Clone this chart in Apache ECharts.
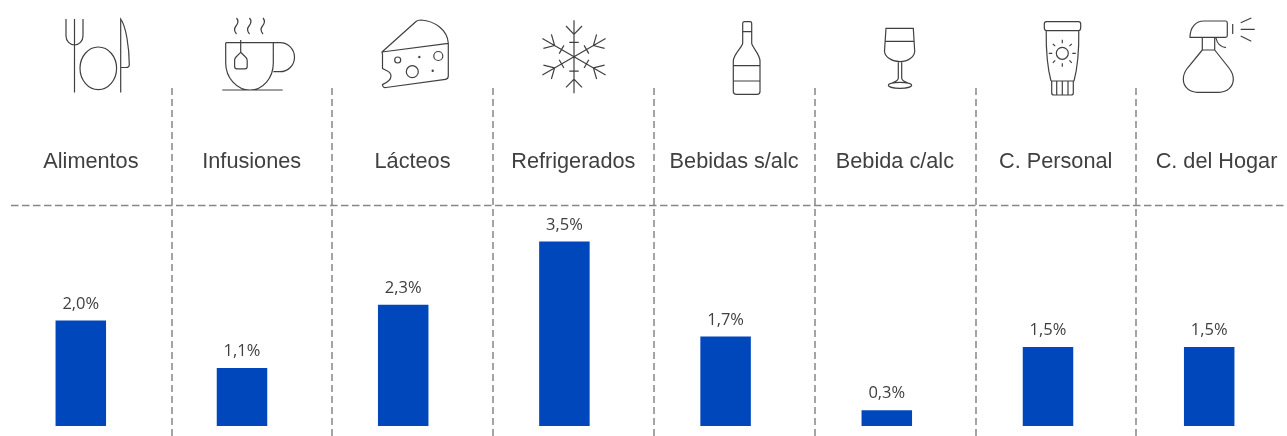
<!DOCTYPE html>
<html><head><meta charset="utf-8">
<style>html,body{margin:0;padding:0;background:#fff}#c{width:1287px;height:436px}</style>
<script src="https://cdn.jsdelivr.net/npm/echarts@6/dist/echarts.min.js"></script>
</head><body><div id="c"></div>
<script>
const categories = ['Alimentos','Infusiones','Lácteos','Refrigerados','Bebidas s/alc','Bebida c/alc','C. Personal','C. del Hogar'];
const values = [2.0,1.1,2.3,3.5,1.7,0.3,1.5,1.5];

function circ(cx,cy,r,ry){ry=ry||r;return `M${cx-r} ${cy}A${r} ${ry} 0 1 1 ${cx+r} ${cy}A${r} ${ry} 0 1 1 ${cx-r} ${cy}Z`;}
function snow(cx,cy){
  const pts=[[0,0,0,36.5],[-4.7,14.4,4.7,14.4],[0,22.4,-8,30.7],[0,22.4,8,30.7]];let d='';
  for(let k=0;k<6;k++){const a=k*Math.PI/3,c=Math.cos(a),s=Math.sin(a);
    const t=(x,y)=>(cx+x*c+y*s).toFixed(1)+' '+(cy-y*c+x*s).toFixed(1);
    pts.forEach(p=>{d+='M'+t(p[0],p[1])+'L'+t(p[2],p[3]);});}
  return d;
}
function sun(cx,cy){let d=circ(cx,cy,6);
  for(let k=0;k<8;k++){const a=k*Math.PI/4,c=Math.cos(a),s=Math.sin(a);
    d+=`M${(cx+10*c).toFixed(1)} ${(cy+10*s).toFixed(1)}L${(cx+13.5*c).toFixed(1)} ${(cy+13.5*s).toFixed(1)}`;}
  return d;
}
const icons = [
 // cubiertos
 'M66 19V36C66 41 70 45 74.5 45C79 45 83 41 83 36V19M74.5 19V92.5'+circ(98.3,68.3,18.3,21.3)+'M120.7 92.5V19C126 26 129.3 48 129.3 65C129.3 67 128 67.5 126 67.5H120.7',
 // taza
 'M225.7 42.7H280A14.5 14.5 0 0 1 280 71.7H273.3M225.7 42.7V63C225.7 78 237 90 250 90C263 90 273.3 78 273.3 63V42.7M222.3 90H282.7M240.7 40V52.3L236 57C235 58 234.6 59 234.6 60.5V66.5C234.6 68 235.5 68.8 237 68.8H245C246.5 68.8 247.2 68 247.2 66.5V60.5C247.2 59 246.7 58 245.5 57L240.7 52.3'+
 'M236.5 18C239 21 238.5 23 236 26C233.5 29 234 31 236.5 34M249.5 18C252 21 251.5 23 249 26C246.5 29 247 31 249.5 34M263 18C265.5 21 265 23 262.5 26C260 29 260.5 31 263 34',
 // queso
 'M382 52L416 21.5C417.5 20 419 20 421 20C435 21 447.5 30 448.3 43.3V76C448.3 78 447.5 79 445.5 79.3L386 87.5C383.5 87.8 382.5 86.5 382.5 84.5C386 83 391 81 391 76C391 71 386 71 382.5 68.5V54ZM382 52L448.3 43.3'+circ(397.7,60,3)+circ(412.3,71.7,6)+circ(438.3,56,4.5)+circ(419.3,57,0.6)+circ(432.7,70.7,0.6),
 // copo
 snow(574,56.7),
 // botella
 'M744.5 21.7H750C751 21.7 751.7 22.5 751.7 23.5V43C751.7 47 760 54 760 61V91.5C760 93.5 759 94.3 757 94.3H736.5C734.5 94.3 733.3 93.5 733.3 91.5V61C733.3 54 742.7 47 742.7 43V23.5C742.7 22.5 743.5 21.7 744.5 21.7ZM742.7 31.7H751.7M733.3 65.7H760M733.3 81H760',
 // copa
 'M886 28.3H913.3L914.7 51C914.7 57 908 61.7 900 61.7C892 61.7 884.5 57 884.5 51ZM885.3 41.3H914M898.3 61.7V78C898.3 81 895 82 892 83M901.7 61.7V78C901.7 81 905 82 908 83'+circ(900,85.3,11.7,3),
 // crema
 'M1046.5 21.7H1078.5C1080 21.7 1080.7 22.5 1080.7 24V27.5C1080.7 29.5 1080 30.7 1078.5 30.7H1046.5C1045 30.7 1044.3 29.5 1044.3 27.5V24C1044.3 22.5 1045 21.7 1046.5 21.7ZM1046.2 30.7C1046 48 1047 66 1051 81M1078.8 30.7C1079 48 1078 66 1074 81M1051 81H1074M1051.7 81V93C1051.7 94.5 1052.5 95 1054 95H1071C1072.5 95 1073.3 94.5 1073.3 93V81M1056.7 81V95M1062.3 81V95M1068 81V95'+sun(1062.3,53.3),
 // spray
 'M1190 37.3C1190 27 1196 21 1204 21H1225.5C1226.8 21 1227.3 21.7 1227.3 23V35.5C1227.3 36.8 1226.8 37.3 1225.5 37.3ZM1202.3 37.3V50M1214.7 37.3V50M1202.3 50H1214.7L1229 68C1232 72 1233.3 75 1233.3 79C1233.3 87 1227 92.3 1219 92.3H1197.5C1189.5 92.3 1183.3 87 1183.3 79C1183.3 75 1184.5 72 1187.5 68L1202.3 50M1216 38C1217 43 1220 47 1226 47.7M1232.7 24V34M1240.7 22.7L1251.3 18M1240.7 29.3H1254.7M1240.7 36L1251.3 41.3'
];
const iconStyle = {fill:'none',stroke:'#404040',lineWidth:1.2};
const graphicEls = icons.map((d,i)=>{
  const name='icon'+i;
  echarts.graphic.registerShape(name, echarts.graphic.extendPath(d,{}));
  return {type:name, silent:true, style:iconStyle, z:5};
});
graphicEls.push({type:'line',silent:true,shape:{x1:11,y1:205.5,x2:1295,y2:205.5},style:{stroke:'#868686',lineWidth:1.5,lineDash:[7.5,3.5]},z:4});

const chart = echarts.init(document.getElementById('c'),null,{renderer:'canvas'});
chart.setOption({
  animation:false,
  backgroundColor:'#fff',
  grid:[
    {left:0.2,width:1289.6,top:215.2,height:210.8,outerBoundsMode:'none'},
    {left:10.5,width:1286.4,top:88,height:348,outerBoundsMode:'none'}
  ],
  xAxis:[
    {gridIndex:0,type:'category',data:categories,axisLine:{show:false},axisTick:{show:false},axisLabel:{show:false},splitLine:{show:false}},
    {gridIndex:1,type:'category',position:'top',data:categories,axisLine:{show:false},axisTick:{show:false},
     axisLabel:{show:true,inside:true,interval:0,margin:74,verticalAlign:'middle',fontFamily:'"Liberation Sans",Arial,sans-serif',fontSize:21.7,color:'#404040'},
     splitLine:{show:true,interval:0,showMinLine:false,showMaxLine:false,lineStyle:{color:'#868686',width:1.5,type:[7,4]}}}
  ],
  yAxis:[
    {gridIndex:0,type:'value',min:0,max:4,show:false},
    {gridIndex:1,type:'value',min:0,max:1,show:false}
  ],
  series:[{
    type:'bar',xAxisIndex:0,yAxisIndex:0,data:values,barWidth:50.5,
    itemStyle:{color:'#0047BB'},
    label:{show:true,position:'top',distance:8,fontFamily:'"Open Sans",sans-serif',fontSize:16.5,color:'#404040',
      formatter:p=>p.value.toFixed(1).replace('.',',')+'%'}
  }],
  graphic:{elements:graphicEls}
});
</script></body></html>
